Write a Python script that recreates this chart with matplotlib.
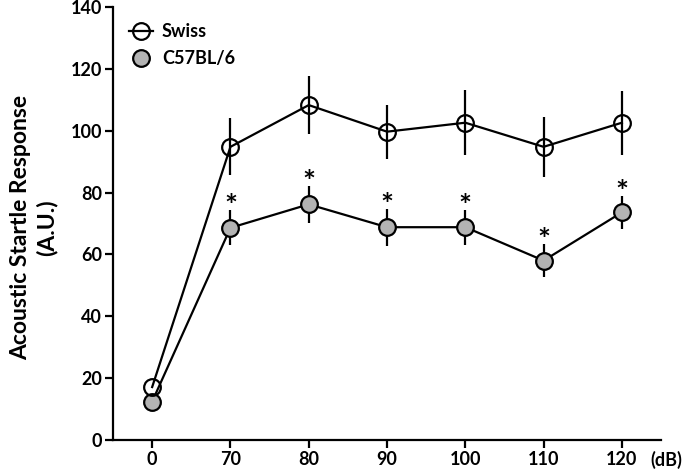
import numpy as np
from matplotlib import pyplot as plt
from matplotlib.lines import Line2D

plt.rcParams['font.family'] = ['Lato', 'DejaVu Sans']
plt.rcParams['font.weight'] = 'bold'

levels = ['0', '70', '80', '90', '100', '110', '120']
swiss = [17.1, 94.8, 108.3, 99.7, 102.6, 94.8, 102.6]
swiss_err = [0, 9.2, 9.5, 8.7, 10.6, 9.8, 10.3]
c57 = [12.4, 68.6, 76.2, 68.8, 68.8, 58.0, 73.6]
c57_err = [0, 5.7, 6.0, 6.0, 5.6, 5.3, 5.3]
signif = [False, True, True, True, True, True, True]

x = np.arange(len(levels))

fig = plt.figure(figsize=(6.85, 4.72), dpi=100)
ax = fig.add_axes([0.165, 0.068, 0.800, 0.917])

ax.errorbar(x, c57, yerr=c57_err, fmt='o-', color='black', lw=1.6, elinewidth=1.6,
            capsize=0, ms=12, mfc='#b3b3b3', mec='black', mew=1.6, zorder=3)
ax.errorbar(x, swiss, yerr=swiss_err, fmt='o-', color='black', lw=1.6, elinewidth=1.6,
            capsize=0, ms=12, mfc='none', mec='black', mew=1.6, zorder=4)

# significance stars just above the C57BL/6 error bars
for xi, yi, ei, s in zip(x, c57, c57_err, signif):
    if s:
        ax.annotate('*', (xi, yi + ei), xytext=(0, -8), textcoords='offset points',
                    ha='center', va='bottom', fontsize=22, fontweight='bold')

ax.set_xlim(-0.5, 6.5)
ax.set_ylim(0, 140)
ax.set_xticks(x)
ax.set_xticklabels(levels)
ax.set_yticks(np.arange(0, 141, 20))
ax.tick_params(direction='out', length=6, width=1.6, labelsize=13, pad=2)
for lab in ax.get_xticklabels() + ax.get_yticklabels():
    lab.set_fontweight('bold')
ax.spines['top'].set_visible(False)
ax.spines['right'].set_visible(False)
ax.spines['left'].set_linewidth(1.6)
ax.spines['bottom'].set_linewidth(1.6)

ax.set_ylabel('Acoustic Startle Response\n(A.U.)', fontsize=16.5, fontweight='bold',
              linespacing=1.25)
ax.yaxis.set_label_coords(-0.102, 0.49)
ax.text(0.98, -0.046, '(dB)', transform=ax.transAxes, ha='left', va='center', fontsize=13)

handles = [Line2D([0], [0], color='black', lw=1.6, marker='o', ms=12, mfc='none', mec='black', mew=1.6),
           Line2D([0], [0], color='none', marker='o', ms=12, mfc='#b3b3b3', mec='black', mew=1.6)]
ax.legend(handles, ['Swiss', 'C57BL/6'], loc='upper left', bbox_to_anchor=(0.0, 1.0),
          frameon=False, fontsize=13, handlelength=1.3, handletextpad=0.5, labelspacing=0.55)

fig.savefig('out.png', dpi=100)
